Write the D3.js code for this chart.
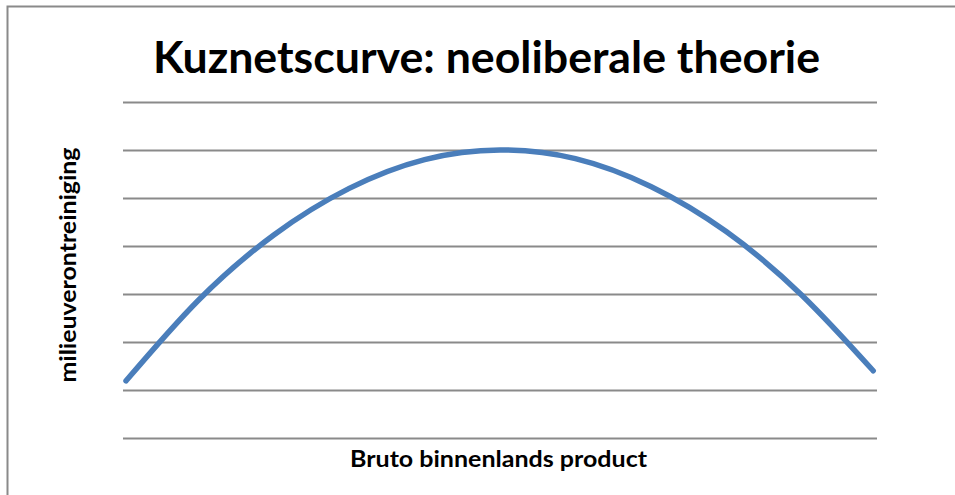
<!DOCTYPE html>
<html>
<head>
<meta charset="utf-8">
<script src="https://cdn.jsdelivr.net/npm/d3@7"></script>
<style>
  html, body { margin: 0; padding: 0; background: #fff; }
  svg { display: block; }
</style>
</head>
<body>
<svg id="chart" width="955" height="495"></svg>
<script>
// ---- data ----
const titleText = "Kuznetscurve: neoliberale theorie";
const xLabel = "Bruto binnenlands product";
const yLabel = "milieuverontreiniging";
const gridValues = [0, 1, 2, 3, 4, 5, 6, 7];
const gdp =       [0.4, 10, 20, 30, 40, 50, 60, 70, 80, 90, 99.5];
const pollution = [1.19, 2.87, 4.23, 5.2, 5.8, 6.0, 5.82, 5.24, 4.3, 2.98, 1.40];

const svg = d3.select("#chart");
const plot = { left: 123, right: 877, top: 102, bottom: 438 };

// frame
svg.append("rect")
  .attr("x", 7.5).attr("y", 6.5)
  .attr("width", 1000).attr("height", 1000)
  .attr("fill", "none").attr("stroke", "#8a8a8a").attr("stroke-width", 2);

const x = d3.scaleLinear().domain([0, 100]).range([plot.left, plot.right]);
const y = d3.scaleLinear().domain([0, 7]).range([plot.bottom, plot.top]);

// gridlines
const grid = svg.append("g")
  .attr("transform", `translate(${plot.left},0)`)
  .call(d3.axisLeft(y).tickValues(gridValues).tickSize(-(plot.right - plot.left)).tickFormat(""));
grid.select(".domain").remove();
grid.selectAll(".tick line").attr("stroke", "#8a8a8a").attr("stroke-width", 1.8);

// curve
const data = gdp.map((g, i) => ({ g, p: pollution[i] }));
svg.append("path")
  .datum(data)
  .attr("fill", "none")
  .attr("stroke", "#4a7ebb")
  .attr("stroke-width", 5.5)
  .attr("stroke-linecap", "round")
  .attr("stroke-linejoin", "round")
  .attr("d", d3.line().x(d => x(d.g)).y(d => y(d.p)).curve(d3.curveNatural));

const fontFam = "Lato, 'Open Sans', 'Liberation Sans', sans-serif";

// title
svg.append("text")
  .attr("x", 486.5).attr("y", 73)
  .attr("text-anchor", "middle")
  .attr("font-family", fontFam)
  .attr("font-weight", "bold")
  .attr("font-size", 43)
  .attr("fill", "#000")
  .attr("textLength", 667)
  .attr("lengthAdjust", "spacingAndGlyphs")
  .text(titleText);

// x label
svg.append("text")
  .attr("x", 498.5).attr("y", 467)
  .attr("text-anchor", "middle")
  .attr("font-family", fontFam)
  .attr("font-weight", "bold")
  .attr("font-size", 23)
  .attr("fill", "#000")
  .attr("textLength", 297)
  .attr("lengthAdjust", "spacingAndGlyphs")
  .text(xLabel);

// y label
svg.append("text")
  .attr("transform", "translate(76,265) rotate(-90)")
  .attr("text-anchor", "middle")
  .attr("font-family", fontFam)
  .attr("font-weight", "bold")
  .attr("font-size", 22)
  .attr("fill", "#000")
  .attr("textLength", 235)
  .attr("lengthAdjust", "spacingAndGlyphs")
  .text(yLabel);
</script>
</body>
</html>
